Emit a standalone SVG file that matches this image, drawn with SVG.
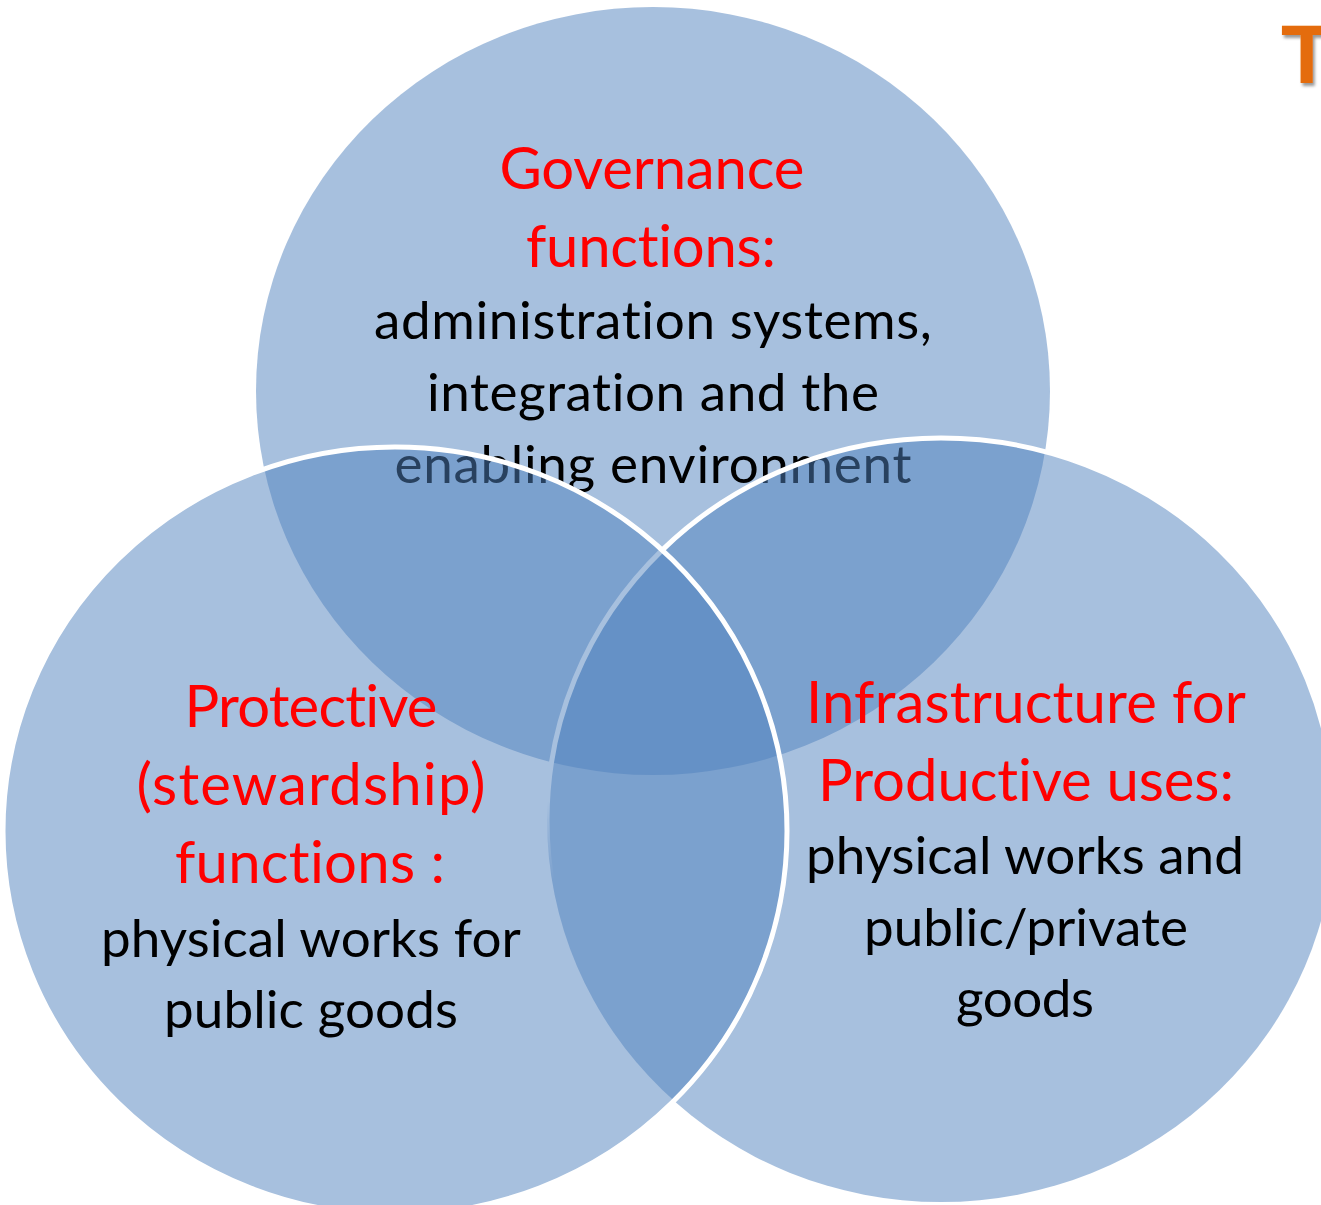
<svg xmlns="http://www.w3.org/2000/svg" width="1321" height="1205" viewBox="0 0 1321 1205">
  <style>
    .set { fill: #4F81BD; fill-opacity: 0.5; }
    .rim { stroke: #FFFFFF; stroke-width: 5; }
    text { font-variant-ligatures: none; font-feature-settings: "liga" 0, "clig" 0, "dlig" 0; letter-spacing: 0.1px; }
    .head { font-family: Lato, "Open Sans", "Liberation Sans", sans-serif; font-size: 58px; fill: #FF0000; text-anchor: middle; }
    .body { font-family: Lato, "Open Sans", "Liberation Sans", sans-serif; font-size: 53px; fill: #000000; text-anchor: middle; }
  </style>
  <defs>
    <!-- outline of the right set fades out where it runs down inside the left set -->
    <linearGradient id="rimFade" gradientUnits="userSpaceOnUse" x1="0" y1="430" x2="0" y2="1210">
      <stop offset="0" stop-color="#FFFFFF" stop-opacity="1"/>
      <stop offset="0.474" stop-color="#FFFFFF" stop-opacity="1"/>
      <stop offset="0.577" stop-color="#FFFFFF" stop-opacity="0"/>
      <stop offset="1" stop-color="#FFFFFF" stop-opacity="0"/>
    </linearGradient>
    <filter id="shadow" x="-20%" y="-20%" width="160%" height="160%">
      <feDropShadow dx="2" dy="3" stdDeviation="1.5" flood-color="#000000" flood-opacity="0.4"/>
    </filter>
  </defs>

  <rect width="1321" height="1205" fill="#FFFFFF"/>

  <!-- top set -->
  <g id="node-governance">
    <ellipse class="set" cx="653" cy="391" rx="397" ry="384"/>
    <text x="502" y="175" style="font-family: Lato, sans-serif; font-size: 34px; fill: #000000;">.</text>
    <text class="head" x="652" y="189" textLength="305">Governance</text>
    <text class="head" x="651" y="267" textLength="250">functions:</text>
    <text class="body" x="653" y="339" textLength="558">administration systems,</text>
    <text class="body" x="653" y="411" textLength="452">integration and the</text>
    <text class="body" x="653" y="483" textLength="517">enabling environment</text>
  </g>

  <!-- right set -->
  <g id="node-infrastructure">
    <ellipse class="set" cx="941" cy="820" rx="394" ry="382" stroke="url(#rimFade)" stroke-width="5"/>
    <text class="head" x="1026" y="723" textLength="440">Infrastructure for</text>
    <text class="head" x="1026" y="801" textLength="416">Productive uses:</text>
    <text class="body" x="1025" y="874" textLength="438">physical works and</text>
    <text class="body" x="1026" y="946" textLength="324">public/private</text>
    <text class="body" x="1025" y="1017" textLength="138">goods</text>
  </g>

  <!-- left set -->
  <g id="node-protective">
    <ellipse class="set rim" cx="395" cy="831" rx="392" ry="384"/>
    <text class="head" x="311" y="727" textLength="253">Protective</text>
    <text class="head" x="311" y="805" textLength="349">(stewardship)</text>
    <text class="head" x="310" y="883" textLength="270">functions :</text>
    <text class="body" x="311" y="957" textLength="420">physical works for</text>
    <text class="body" x="311" y="1028" textLength="294">public goods</text>
  </g>

  <!-- clipped heading letter at the right edge -->
  <g id="title-letter">
    <text x="1281" y="83" filter="url(#shadow)" style="font-family: 'Liberation Sans', Arial, sans-serif; font-weight: bold; font-size: 84px; fill: #E46C0A;">T</text>
  </g>
</svg>
